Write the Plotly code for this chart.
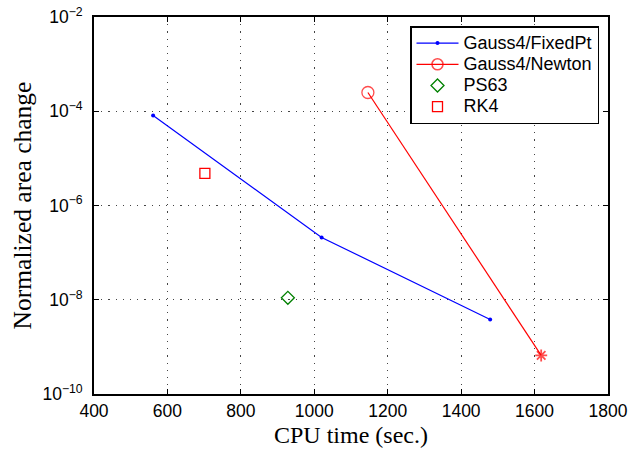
import plotly.graph_objects as go

fixed_x = [561, 1020, 1479]
fixed_y = [8.1e-5, 2.1e-7, 3.8e-9]
newton_x = [1146, 1618]
newton_y = [2.5e-4, 6.6e-10]
ps63_x = [928]
ps63_y = [1.1e-8]
rk4_x = [702]
rk4_y = [4.8e-6]

series_names = ["Gauss4/FixedPt", "Gauss4/Newton", "PS63", "RK4"]

xticks = [400, 600, 800, 1000, 1200, 1400, 1600, 1800]
yticks = [1e-10, 1e-8, 1e-6, 1e-4, 1e-2]
yticktext = ["10<sup>\u221210</sup>", "10<sup>\u22128</sup>", "10<sup>\u22126</sup>",
             "10<sup>\u22124</sup>", "10<sup>\u22122</sup>"]


def lname(s):
    return '<span style="font-size:18px">' + s + '</span>'


fig = go.Figure()
fig.add_trace(go.Scatter(x=fixed_x, y=fixed_y, mode="lines+markers", name=lname(series_names[0]),
                         line=dict(color="blue", width=1.2),
                         marker=dict(symbol="circle", size=4, color="blue")))
fig.add_trace(go.Scatter(x=newton_x, y=newton_y, mode="lines+markers", name=lname(series_names[1]),
                         line=dict(color="red", width=1.2),
                         marker=dict(symbol=["circle-open", "asterisk-open"], size=[12, 10],
                                     color="red", line=dict(width=[1.3, 1.8], color="red"))))
fig.add_trace(go.Scatter(x=ps63_x, y=ps63_y, mode="markers", name=lname(series_names[2]),
                         marker=dict(symbol="diamond-open", size=10, color="green",
                                     line=dict(width=1.3, color="green"))))
fig.add_trace(go.Scatter(x=rk4_x, y=rk4_y, mode="markers", name=lname(series_names[3]),
                         marker=dict(symbol="square-open", size=10, color="red",
                                     line=dict(width=1.3, color="red"))))

axis_common = dict(showline=True, linecolor="black", linewidth=1.6, mirror="ticks",
                   ticks="inside", ticklen=5, tickcolor="black", tickwidth=1,
                   showgrid=True, gridcolor="#444444", griddash="1.2px,6px", gridwidth=1,
                   zeroline=False, automargin=False, ticklabeloverflow="allow",
                   tickfont=dict(family="Liberation Sans, Arial", size=17.5, color="black"))

fig.update_xaxes(range=[400, 1800], tickvals=xticks, ticktext=[str(t) for t in xticks],
                 title=dict(text="CPU time (sec.)",
                            font=dict(family="Liberation Serif, Times New Roman", size=24, color="black"),
                            standoff=6),
                 **axis_common)
fig.update_yaxes(type="log", range=[-10, -2], tickvals=yticks, ticktext=yticktext,
                 ticklabelstandoff=6,
                 title=dict(text="Normalized area change",
                            font=dict(family="Liberation Serif, Times New Roman", size=25.5, color="black"),
                            standoff=4),
                 **axis_common)

L, R, T, B = 94, 22, 17, 60
fig.update_layout(width=630, height=454, plot_bgcolor="white", paper_bgcolor="white",
                  margin=dict(l=L, r=R, t=T, b=B),
                  legend=dict(x=(599 - L) / (630 - L - R), y=1 - (26 - T) / (454 - T - B),
                              xanchor="right", yanchor="top",
                              bgcolor="white", bordercolor="black", borderwidth=1.5,
                              font=dict(family="Liberation Sans, Arial", size=14, color="black"),
                              tracegroupgap=0, itemwidth=42),
                  showlegend=True)

fig.write_html("out.html")
